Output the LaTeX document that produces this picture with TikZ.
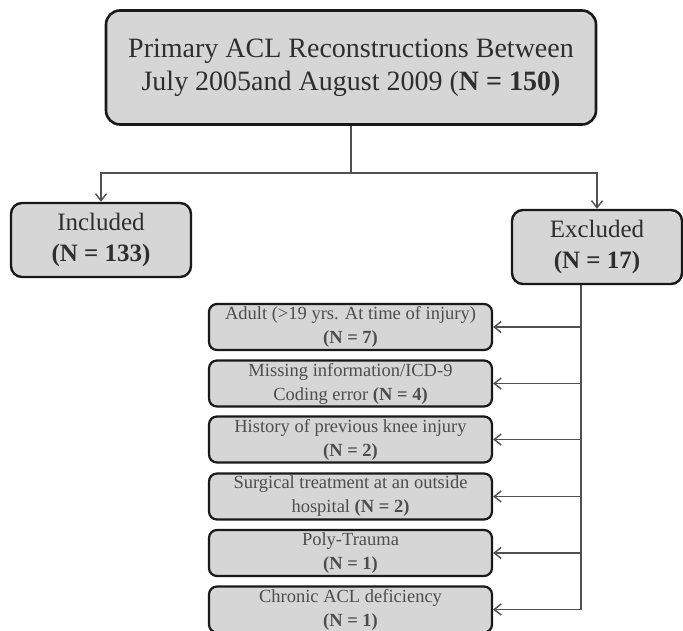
\documentclass[tikz,border=0pt]{standalone}
\usepackage{fontspec}
\setmainfont{Liberation Serif}
\usetikzlibrary{arrows.meta}
\definecolor{boxfill}{HTML}{D6D6D6}
\definecolor{txtc}{HTML}{2E2E2E}
\definecolor{linec}{HTML}{505050}
\tikzset{
  bigbox/.style={draw=black!90, line width=2.6pt, fill=boxfill, rounded corners=14pt,
    align=center, text=txtc, inner sep=0pt, minimum width=490pt, minimum height=114pt,
    font=\fontsize{28}{33}\selectfont},
  midbox/.style={draw=black!90, line width=2.4pt, fill=boxfill, rounded corners=11pt,
    align=center, text=txtc, inner sep=0pt, minimum height=74pt,
    font=\fontsize{25}{30.5}\selectfont},
  subbox/.style={draw=black!90, line width=2.2pt, fill=boxfill, rounded corners=8pt,
    align=center, text=txtc!85!white, inner sep=0pt, minimum width=283pt, minimum height=46pt,
    font=\fontsize{18.5}{24}\selectfont},
  conn/.style={draw=linec, line width=1.4pt},
  arr/.style={conn, -{Straight Barb[length=7pt,width=11pt,line width=1.4pt]}},
}
\begin{document}
\begin{tikzpicture}[x=1pt,y=-1pt]
\useasboundingbox (0,0) rectangle (683,631);
\clip (0,0) rectangle (683,631);
\node[bigbox] (top) at (351,67.5) {Primary ACL Reconstructions Between\\July 2005and August 2009 (\textbf{N = 150)}};
\node[midbox, minimum width=180pt] (inc) at (101,240) {Included\\\textbf{(N = 133)}};
\node[midbox, minimum width=170pt] (exc) at (597,247) {Excluded\\\textbf{(N = 17)}};
\node[subbox] (s1) at (350.5,327) {Adult (>19 yrs. At time of injury)\\\textbf{(N = 7)}};
\node[subbox] (s2) at (350.5,383.5) {Missing information/ICD-9\\Coding error \textbf{(N = 4)}};
\node[subbox] (s3) at (350.5,439.5) {History of previous knee injury\\\textbf{(N = 2)}};
\node[subbox] (s4) at (350.5,496.5) {Surgical treatment at an outside\\hospital \textbf{(N = 2)}};
\node[subbox] (s5) at (350.5,553) {Poly-Trauma\\\textbf{(N = 1)}};
\node[subbox] (s6) at (350.5,609.5) {Chronic ACL deficiency\\\textbf{(N = 1)}};
\coordinate (j) at (351,173);
\coordinate (spx) at (581,0);
\draw[conn] (top.south) -- (j);
\draw[arr] (j) -| (inc.north);
\draw[arr] (j) -| (exc.north);
\draw[arr] (exc.south -| spx) |- (s6.east);
\foreach \s in {s1,s2,s3,s4,s5}{
  \draw[arr] (spx |- \s.east) -- (\s.east);
}
\end{tikzpicture}
\end{document}
